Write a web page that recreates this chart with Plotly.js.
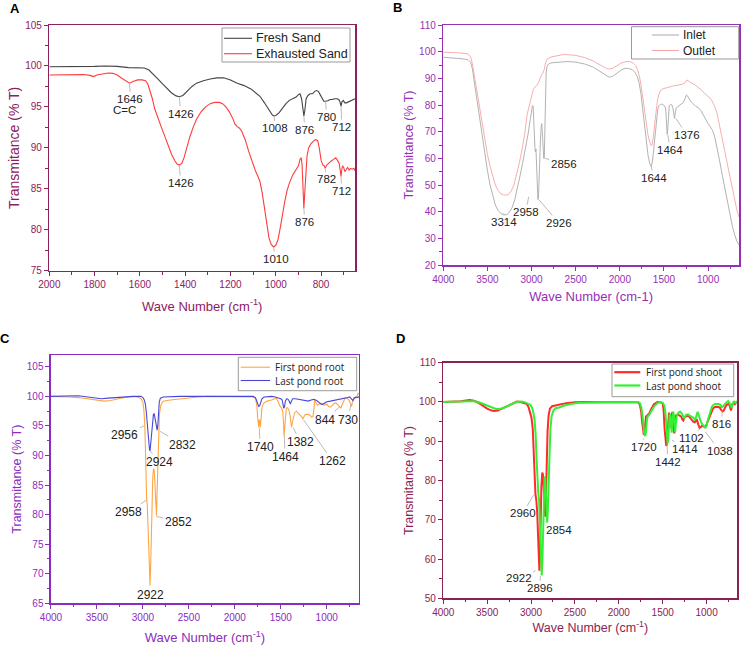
<!DOCTYPE html>
<html><head><meta charset="utf-8">
<script src="https://cdn.plot.ly/plotly-3.0.1.min.js"></script>
<style>html,body{margin:0;padding:0;background:#fff}#chart{width:744px;height:645px}</style>
</head><body><div id="chart"></div>
<script>
// ---------- Panel A ----------
const freshWn = [2000,1900,1800,1750,1700,1650,1600,1580,1560,1540,1520,1500,1480,1460,1440,1426,1410,1390,1370,1350,1320,1290,1260,1230,1200,1170,1140,1110,1090,1070,1050,1030,1015,1008,1000,985,970,955,940,925,910,900,893,886,880,876,872,866,858,848,838,828,820,812,804,796,788,780,770,760,750,740,730,722,716,712,708,702,695,688,680,670,660,650];
const freshT  = [99.9,99.9,99.95,100,99.95,99.8,99.8,99.75,99.5,99.0,98.4,97.8,97.2,96.7,96.35,96.25,96.4,97.0,97.5,97.9,98.2,98.4,98.55,98.55,98.3,97.9,97.6,97.2,96.7,96.3,95.5,94.6,94.0,93.9,93.95,94.3,94.9,95.4,95.8,96.0,96.2,96.5,96.6,96.0,94.8,93.9,94.5,96.0,96.4,96.6,96.6,96.9,97.0,96.9,96.5,96.0,95.7,95.7,95.75,95.9,95.9,96.0,96.0,95.9,95.6,95.1,95.6,95.8,95.5,95.5,95.6,95.7,95.8,96.0];
const exhWn = [2000,1900,1850,1820,1805,1790,1760,1740,1720,1700,1680,1660,1646,1630,1610,1590,1575,1565,1555,1545,1535,1520,1505,1490,1475,1460,1445,1435,1426,1415,1405,1395,1380,1365,1350,1330,1310,1290,1270,1250,1235,1220,1205,1190,1180,1170,1160,1150,1135,1120,1105,1090,1080,1070,1060,1050,1040,1030,1020,1010,1000,990,980,970,960,950,940,925,910,900,893,888,884,880,876,872,868,862,855,845,835,825,815,808,800,792,786,782,775,765,755,745,735,728,720,715,712,709,705,700,695,690,683,676,670,662,655,650];
const exhT  = [98.9,98.9,98.95,98.85,98.7,98.9,99.05,99.15,99.1,98.9,98.5,98.1,97.9,98.1,98.3,98.3,98.2,97.8,97.0,96.0,94.8,93.5,92.5,91.4,90.2,89.2,88.4,88.0,87.9,88.1,88.8,89.9,91.3,92.5,93.5,94.4,95.0,95.4,95.55,95.55,95.4,95.0,94.4,93.6,92.9,92.6,92.4,92.0,91.0,89.6,88.3,87.2,86.6,85.9,84.5,82.5,80.6,79.0,78.2,77.9,78.1,78.8,80.3,82.0,83.5,84.8,85.7,86.7,87.3,87.8,88.6,88.8,88.0,85.5,82.6,84.5,87.0,89.0,90.0,90.5,90.8,91.0,90.9,90.0,88.5,87.9,87.8,87.5,87.9,88.2,88.4,88.6,88.8,88.5,88.1,87.2,86.5,87.3,87.8,87.6,87.1,87.3,87.6,87.3,87.5,87.4,87.5,87.2];

// ---------- Panel B ----------
const inletWn = [4000,3900,3800,3720,3690,3670,3650,3620,3590,3560,3530,3500,3470,3440,3410,3380,3350,3314,3280,3250,3220,3190,3160,3130,3100,3070,3040,3015,3000,2990,2982,2975,2968,2962,2956,2950,2944,2936,2928,2922,2914,2906,2898,2890,2884,2878,2870,2862,2856,2850,2842,2835,2825,2810,2780,2700,2600,2500,2400,2300,2220,2160,2120,2080,2030,1980,1940,1900,1860,1830,1800,1780,1760,1740,1720,1700,1680,1660,1644,1630,1615,1600,1585,1570,1555,1540,1520,1505,1490,1480,1470,1464,1458,1450,1440,1425,1410,1400,1390,1380,1372,1360,1340,1320,1300,1280,1260,1245,1235,1220,1200,1170,1140,1110,1080,1050,1020,1000,975,950,925,900,875,850,825,800,775,750,725,700,675,650];
const inletT  = [97.9,97.7,97.4,97.0,96.0,93.5,89.0,82.5,75.5,68.5,61.5,55.5,50.0,45.8,42.5,40.5,39.4,38.8,38.9,39.8,41.6,44.5,48.5,53.5,58.5,63.5,69.0,74.5,78.0,79.8,79.5,76.0,69.0,64.0,62.5,63.5,58.0,50.0,44.5,45.0,55.0,63.0,68.0,72.0,73.0,70.0,63.5,60.0,60.0,68.0,85.0,92.0,94.5,95.3,95.8,96.1,96.3,96.1,95.4,94.2,92.5,91.0,90.4,90.8,92.0,93.2,93.8,93.7,93.3,92.3,90.5,88.0,84.0,78.5,72.0,66.0,61.0,58.0,56.9,59.0,64.0,70.0,75.0,78.5,79.8,80.3,80.3,80.0,79.6,78.5,73.0,69.0,70.5,77.0,79.8,80.3,80.0,79.0,76.0,75.0,77.0,79.0,79.5,80.0,80.6,81.0,82.5,83.8,83.5,82.5,81.5,80.5,79.5,79.0,77.8,76.0,74.0,73.0,71.8,70.5,68.0,64.5,60.0,55.5,51.0,46.5,42.0,38.0,34.5,31.5,29.0,27.5];
const outletWn = [4000,3900,3800,3720,3690,3670,3650,3620,3590,3560,3530,3500,3470,3440,3410,3380,3350,3320,3290,3260,3230,3200,3170,3140,3110,3080,3050,3020,3000,2980,2960,2940,2920,2900,2885,2870,2855,2840,2820,2780,2700,2650,2600,2500,2400,2300,2200,2150,2120,2080,2030,1980,1930,1890,1850,1820,1800,1780,1760,1740,1720,1700,1680,1660,1645,1635,1620,1605,1590,1575,1560,1540,1520,1500,1470,1440,1410,1380,1350,1320,1290,1265,1250,1240,1230,1215,1190,1160,1130,1100,1070,1040,1010,990,960,930,900,870,840,810,780,750,720,690,670,650];
const outletT  = [99.8,99.7,99.5,99.2,98.0,95.5,91.5,85.5,79.0,72.5,66.5,61.5,57.0,53.0,50.0,48.0,46.8,46.3,46.2,46.5,47.8,50.0,53.5,58.0,63.0,68.5,76.5,81.0,83.5,85.8,86.8,87.3,88.5,90.5,91.5,92.0,93.5,96.0,97.3,98.0,98.5,98.9,98.9,98.6,97.8,96.5,94.6,93.7,93.5,93.8,94.8,95.8,96.3,96.3,95.8,94.8,93.2,91.0,87.5,83.0,77.5,72.5,68.5,66.0,64.8,65.0,68.0,73.0,78.0,81.5,83.8,85.3,86.0,86.2,86.5,86.8,87.2,87.3,87.4,87.6,87.8,88.3,89.0,89.4,89.2,88.8,88.3,87.8,87.0,86.3,85.5,84.3,83.5,83.0,81.8,79.8,77.0,72.5,67.5,62.5,57.5,52.5,47.5,43.0,40.0,38.0];

// ---------- Panel C ----------
const firstRootWn = [4000,3900,3800,3700,3600,3500,3420,3350,3300,3200,3120,3060,3020,3000,2990,2980,2972,2966,2960,2952,2944,2936,2928,2922,2916,2908,2900,2892,2884,2876,2868,2860,2852,2845,2838,2830,2820,2805,2780,2700,2600,2500,2400,2300,2200,2000,1900,1800,1775,1760,1752,1745,1740,1734,1728,1722,1716,1705,1690,1650,1600,1570,1550,1530,1510,1490,1478,1470,1464,1458,1450,1440,1425,1410,1400,1390,1382,1375,1365,1350,1330,1310,1290,1275,1262,1250,1235,1215,1200,1180,1165,1150,1140,1132,1120,1100,1080,1060,1040,1020,1000,980,960,940,920,900,880,860,850,844,835,825,810,795,780,765,750,740,730,722,715,705,695,685,675,665,658,650];
const firstRootT  = [100,100,99.9,99.8,99.6,99.4,99.2,99.3,99.5,99.8,100,99.9,99.6,99.0,97.8,95.5,91.0,86.0,83.0,81.5,78.0,73.0,69.5,68.0,71.0,77.0,83.0,86.5,87.8,87.3,85.0,81.5,79.8,84.0,89.0,94.0,97.0,98.5,99.2,99.4,99.6,99.7,99.9,100,100,100,100,99.9,99.6,98.5,96.5,95.0,94.8,96.0,96.0,94.8,95.8,98.0,98.8,99.2,99.4,99.6,99.7,99.2,98.4,98.0,97.5,95.5,93.2,94.5,97.0,98.0,98.1,97.6,96.8,95.5,94.8,95.5,96.5,97.2,97.5,97.2,97.0,96.6,96.2,96.6,96.9,97.0,96.9,96.8,96.5,96.6,97.8,99.4,99.0,98.5,98.7,98.8,98.6,98.5,98.7,98.3,98.2,98.5,98.8,98.9,98.6,98.4,98.1,98.0,98.5,99.0,99.4,99.8,99.6,99.5,99.1,98.6,98.3,98.9,99.5,99.8,99.7,99.9,99.8,100.2,100.6,100.3];
const lastRootWn = [4000,3900,3800,3700,3600,3500,3450,3380,3300,3200,3100,3020,3000,2985,2972,2962,2952,2942,2934,2928,2922,2915,2905,2895,2885,2876,2868,2860,2852,2845,2838,2830,2822,2810,2780,2600,2400,2000,1800,1775,1760,1750,1740,1730,1720,1705,1680,1600,1560,1530,1500,1485,1475,1468,1460,1450,1435,1420,1405,1395,1385,1370,1340,1300,1270,1240,1200,1170,1140,1110,1080,1060,1040,1020,1000,960,920,880,840,800,770,750,730,715,700,680,660,650];
const lastRootT  = [100,100,100,100.1,99.9,99.7,99.6,99.7,99.8,100,100,100,99.8,99.4,98.6,97.2,95.0,93.5,92.0,91.0,90.8,92.0,94.5,96.5,97.0,97.0,96.3,95.3,94.5,94.3,95.0,97.0,99.0,99.7,99.9,100,100,100,100,99.8,99.2,98.6,98.3,98.4,98.9,99.6,99.9,100,99.9,99.8,99.6,99.4,98.8,98.0,98.2,99.2,99.6,99.5,99.1,98.7,99.2,99.6,99.6,99.5,99.4,99.3,99.2,99.4,99.5,99.3,99.0,98.7,98.7,98.9,99.1,99.2,99.3,99.4,99.5,99.6,99.8,99.9,99.5,99.3,99.7,99.9,99.8,100];

// ---------- Panel D ----------
const firstShootWn = [4000,3900,3800,3700,3650,3600,3550,3500,3450,3420,3380,3340,3300,3250,3200,3160,3120,3080,3050,3030,3010,2995,2980,2970,2960,2950,2940,2930,2920,2912,2905,2898,2890,2882,2872,2864,2855,2846,2838,2830,2822,2812,2800,2785,2760,2700,2600,2500,2400,2200,2000,1900,1800,1780,1760,1745,1735,1725,1715,1706,1698,1690,1670,1650,1630,1600,1560,1520,1500,1490,1478,1468,1460,1452,1444,1436,1428,1420,1412,1405,1398,1390,1382,1375,1368,1360,1350,1330,1310,1290,1275,1265,1255,1240,1220,1200,1180,1165,1150,1135,1120,1110,1095,1080,1065,1050,1035,1020,1005,990,970,950,930,910,890,870,850,835,825,815,805,795,780,765,750,740,730,722,715,705,690,680,670,660,650];
const firstShootT  = [100,100.1,100.2,100.5,100.3,99.8,99.0,98.3,97.8,97.7,97.8,98.2,98.7,99.3,99.8,100.1,100,99.8,99.5,98.8,97.5,96.0,93.0,88.0,80.0,76.5,75.0,72.0,66.0,60.0,57.0,62.0,72.0,78.5,82.0,81.5,78.0,73.0,70.8,76.0,85.0,92.5,96.5,98.3,98.9,99.2,99.7,99.9,100,99.9,99.8,99.9,99.9,99.9,99.3,97.5,95.0,92.5,91.6,92.8,95.0,96.3,96.7,97.2,98.2,99.4,100,99.9,99.6,98.0,93.0,89.5,88.8,89.3,92.5,96.0,97.3,96.0,94.0,93.5,96.0,97.5,96.0,92.5,92.0,94.5,96.5,96.8,96.5,96.3,95.5,95.3,96.0,96.3,96.5,96.3,95.8,95.2,94.9,94.8,95.3,95.5,94.3,93.4,93.6,94.0,93.8,93.6,94.0,94.8,96.0,97.2,98.2,98.7,98.8,98.7,98.6,98.0,97.7,97.6,97.8,98.5,99.0,99.4,99.5,99.2,98.3,97.8,98.5,99.5,99.6,99.4,99.7,100,100.1];
const lastShootWn = [4000,3900,3800,3700,3650,3600,3550,3500,3450,3400,3360,3320,3280,3240,3200,3160,3120,3080,3040,3010,2990,2975,2960,2948,2938,2928,2918,2908,2898,2890,2884,2878,2870,2862,2854,2846,2838,2830,2822,2816,2810,2802,2792,2780,2765,2745,2720,2680,2620,2550,2450,2300,2100,1900,1780,1760,1745,1730,1720,1710,1698,1690,1682,1672,1655,1635,1600,1560,1530,1500,1480,1468,1458,1450,1444,1436,1428,1420,1412,1404,1397,1390,1380,1372,1365,1358,1350,1340,1320,1300,1280,1265,1255,1245,1230,1210,1190,1170,1150,1135,1125,1112,1102,1092,1080,1065,1050,1035,1020,1010,1000,990,975,960,940,920,900,870,850,835,825,815,800,785,770,755,740,730,722,715,708,700,690,680,670,660,650];
const lastShootT  = [100,100,100.1,100.2,100.2,100,99.5,99.0,98.5,98.2,98.2,98.4,98.8,99.3,99.7,100,100.1,100,99.7,99.3,98.6,97.5,95.5,92.0,86.0,80.0,77.0,75.0,68.0,60.0,56.5,55.8,60.0,70.0,77.0,81.0,80.5,76.0,71.0,69.3,71.5,78.0,87.0,93.0,96.5,97.8,98.4,98.6,99.1,99.5,99.8,99.9,99.9,99.9,100,99.7,98.8,96.5,94.0,92.0,91.3,92.5,95.0,96.3,96.7,97.5,98.8,99.7,100,99.8,99.0,97.0,93.5,90.5,89.5,90.5,94.0,97.0,96.5,93.0,92.2,95.0,97.5,96.5,93.0,92.3,94.5,96.5,97.3,97.5,97.0,96.3,95.8,96.3,96.8,96.8,96.4,96.2,96.0,95.5,95.8,96.8,97.5,96.8,95.8,95.0,94.3,93.8,93.6,93.5,94.0,95.0,96.3,97.5,98.8,99.3,99.5,99.5,99.4,99.0,98.7,98.8,99.3,99.6,100,100.2,99.8,99.2,98.6,98.5,99.0,99.8,100.2,99.9,99.8,100,100.1];

// ---------- Series names ----------
const namesA = ['Fresh Sand', 'Exhausted Sand'];
const namesB = ['Inlet', 'Outlet'];
const namesC = ['First pond root', 'Last pond root'];
const namesD = ['First pond shoot', 'Last pond shoot'];

// ---------- Peak labels: text, tip wavenumber, tip %T ----------
const peakTextA = ['1646','1426','1426','1008','876','780','712','1010','876','782','712'];
const peakWnA   = [1646,1426,1426,1008,876,780,712,1010,876,782,712];
const peakTA    = [97.9,96.25,87.9,93.9,93.9,95.7,95.1,77.9,82.6,87.5,86.5];
const peakTextB = ['3314','2958','2926','2856','1644','1464','1376'];
const peakWnB   = [3314,3033,2913,2845,1644,1456,1365];
const peakTB    = [39.4,45.6,44.4,60,56.9,68.75,75];
const peakTextC = ['2956','2924','2832','1740','1464','1382','1262','844','730','2958','2852','2922'];
const peakWnC   = [2988,2924,2814,1733,1461,1363,1255,855,736,2959,2852,2922];
const peakTC    = [95,90.8,94.1,94.7,93.2,94.7,96.1,98.3,98.6,82.5,79.7,67.8];
const peakTextD = ['2960','2854','2922','2896','1720','1442','1414','1102','1038','816'];
const peakWnD   = [2970,2838,2948,2895,1717,1451,1394,1072,1015,825];
const peakTD    = [76.3,69.5,57,55.7,90.7,89.5,90.3,93.3,92.4,97.9];

// label offsets (pixels) – styling
const offA = [[1,16],[1.5,17],[1.5,18],[1.5,12.5],[1,14],[1,16],[1,21],[2,12],[1,13.5],[1.5,11],[1,14.5]];
const offB = [[0,9],[-2.7,15.3],[19.4,23],[18.4,5.7],[2.3,11.4],[2.3,15],[11,16.7]];
const offC = [[-19,8.7],[10,11.6],[22.7,13.4],[0.7,19.6],[0.7,20.4],[6.7,14.6],[29.4,41.9],[-15,13.2],[-3.3,14.9],[-18.4,12.6],[21.8,5.1],[0.6,8.2]];
const offD = [[-11,18.3],[13.4,8.3],[-16.9,7.6],[0,12.4],[0,8.8],[0.7,18.5],[12.7,9.2],[-9,10],[14.4,18.9],[0,13.8]];

const W = 744, H = 645;
const FONT = 'Liberation Sans, Arial, sans-serif';
const LFONT = 'Open Sans, DejaVu Sans, sans-serif';
const colA = '#8E2060', colB = '#9530B5', colC = '#8A2DBE', colD = '#8B2352';
const lineColA = ['#444444', '#FF3B3B'], lineColB = ['#A9A9A9', '#F5A5A5'];
const lineColC = ['#FFA545', '#4848D8'], lineColD = ['#FF2A2A', '#33F033'];

function tr(x, y, name, color, w, xa, ya) {
  return {x: x, y: y, name: name, type: 'scatter', mode: 'lines', showlegend: false,
    line: {color: color, width: w, shape: 'linear'}, xaxis: xa, yaxis: ya};
}
const data = [
  tr(freshWn, freshT, namesA[0], lineColA[0], 1.1, 'x', 'y'),
  tr(exhWn, exhT, namesA[1], lineColA[1], 1.1, 'x', 'y'),
  tr(inletWn, inletT, namesB[0], lineColB[0], 0.9, 'x2', 'y2'),
  tr(outletWn, outletT, namesB[1], lineColB[1], 0.9, 'x2', 'y2'),
  tr(firstRootWn, firstRootT, namesC[0], lineColC[0], 1.1, 'x3', 'y3'),
  tr(lastRootWn, lastRootT, namesC[1], lineColC[1], 1.1, 'x3', 'y3'),
  tr(firstShootWn, firstShootT, namesD[0], lineColD[0], 2, 'x4', 'y4'),
  tr(lastShootWn, lastShootT, namesD[1], lineColD[1], 2, 'x4', 'y4')
];

function xax(dom, range, dt, mdt, col, anchor, title, tsize, standoff) {
  return {domain: dom, range: range, anchor: anchor, dtick: dt, tick0: 0,
    showline: true, mirror: true, linecolor: col, linewidth: 1.5,
    ticks: 'outside', ticklen: 4, tickwidth: 1, tickcolor: col,
    minor: {ticks: 'outside', ticklen: 2.5, dtick: mdt, tickcolor: col, tickwidth: 1, showgrid: false},
    showgrid: false, zeroline: false,
    tickfont: {family: FONT, size: 10, color: col},
    title: {text: title, font: {family: FONT, size: tsize, color: col}, standoff: standoff}};
}
function yax(dom, range, dt, mdt, col, anchor, tsize) {
  return xax(dom, range, dt, mdt, col, anchor, 'Transmitance (% T)', tsize, 2);
}
function peaks(texts, xs, ys, offs, xr, yr, size) {
  return texts.map((t, i) => ({text: t, x: xs[i], y: ys[i], xref: xr, yref: yr,
    showarrow: true, arrowhead: 0, arrowwidth: 0.8, arrowcolor: '#aaa',
    ax: offs[i][0], ay: offs[i][1], standoff: 0, startstandoff: 0,
    font: {family: FONT, size: size, color: '#222'}}));
}
function panelLabel(t, px, py) {
  return {text: '<b>' + t + '</b>', x: px / W, y: 1 - py / H, xref: 'paper', yref: 'paper',
    showarrow: false, xanchor: 'center', yanchor: 'middle',
    font: {family: FONT, size: 13, color: '#000'}};
}
// legend box drawn in pixel positions (box l,r,t,b; line x0,x1; row y's; text x)
const shapes = [];
const legendTexts = [];
function legendBox(box, lx0, lx1, rows, tx, names, cols, lw, fsize, fam) {
  shapes.push({type: 'rect', xref: 'paper', yref: 'paper', layer: 'above',
    x0: box[0] / W, x1: box[1] / W, y0: 1 - box[3] / H, y1: 1 - box[2] / H,
    line: {color: '#9a9a9a', width: 1}, fillcolor: '#ffffff'});
  names.forEach((n, i) => {
    shapes.push({type: 'line', xref: 'paper', yref: 'paper', layer: 'above',
      x0: lx0 / W, x1: lx1 / W, y0: 1 - rows[i] / H, y1: 1 - rows[i] / H,
      line: {color: cols[i], width: lw}});
    legendTexts.push({text: n, x: tx / W, y: 1 - rows[i] / H, xref: 'paper', yref: 'paper',
      xanchor: 'left', yanchor: 'middle', showarrow: false, borderpad: 0,
      font: {family: fam, size: fsize, color: '#222'}});
  });
}
legendBox([222, 350, 28, 62], 224, 252, [38.3, 53.7], 255, namesA, lineColA, 1.1, 12.5, FONT);
legendBox([631.5, 738.7, 26.7, 59], 652, 679, [35, 50.5], 682, namesB, lineColB, 1, 12, FONT);
legendBox([238.3, 356.7, 357.3, 390.7], 240.7, 270, [367.2, 380.5], 274, namesC, lineColC, 1.1, 10, LFONT);
legendBox([612, 733.7, 364, 396.7], 614.3, 640.3, [372.2, 385.5], 645, namesD, lineColD, 2.2, 10, LFONT);

const annotations = [].concat(
  peaks(peakTextA, peakWnA, peakTA, offA, 'x', 'y', 11.5),
  [{text: 'C=C', x: 1668, y: 94.6, xref: 'x', yref: 'y', showarrow: false,
    font: {family: FONT, size: 11.5, color: '#222'}}],
  peaks(peakTextB, peakWnB, peakTB, offB, 'x2', 'y2', 11.5),
  peaks(peakTextC, peakWnC, peakTC, offC, 'x3', 'y3', 12),
  peaks(peakTextD, peakWnD, peakTD, offD, 'x4', 'y4', 11.5),
  legendTexts,
  [panelLabel('A', 15, 8), panelLabel('B', 397, 7), panelLabel('C', 5, 338), panelLabel('D', 400, 338)]
);

const layout = {
  width: W, height: H, margin: {l: 0, r: 0, t: 0, b: 0},
  paper_bgcolor: '#fff', plot_bgcolor: '#fff', showlegend: false,
  font: {family: FONT},
  xaxis:  xax([0.0663, 0.4772], [2000, 650], 200, 100, colA, 'y', 'Wave Number (cm<sup>-1</sup>)', 13, 12),
  yaxis:  yax([0.5803, 0.9612], [75, 105], 5, 2.5, colA, 'x', 14),
  xaxis2: xax([0.5958, 0.9933], [4000, 650], 500, 250, colB, 'y2', 'Wave Number (cm-1)', 13, 8),
  yaxis2: yax([0.5891, 0.9612], [20, 110], 10, 5, colB, 'x2', 12.5),
  xaxis3: xax([0.0685, 0.4824], [4000, 650], 500, 250, colC, 'y3', 'Wave Number (cm<sup>-1</sup>)', 13, 12),
  yaxis3: yax([0.0646, 0.4496], [65, 107], 5, 2.5, colC, 'x3', 12.5),
  xaxis4: xax([0.5958, 0.9910], [4000, 650], 500, 250, colD, 'y4', 'Wave Number (cm<sup>-1</sup>)', 12.5, 6),
  yaxis4: yax([0.0724, 0.4377], [50, 110], 10, 5, colD, 'x4', 12.5),
  shapes: shapes,
  annotations: annotations
};

Plotly.newPlot('chart', data, layout, {displayModeBar: false, staticPlot: true});
</script></body></html>
